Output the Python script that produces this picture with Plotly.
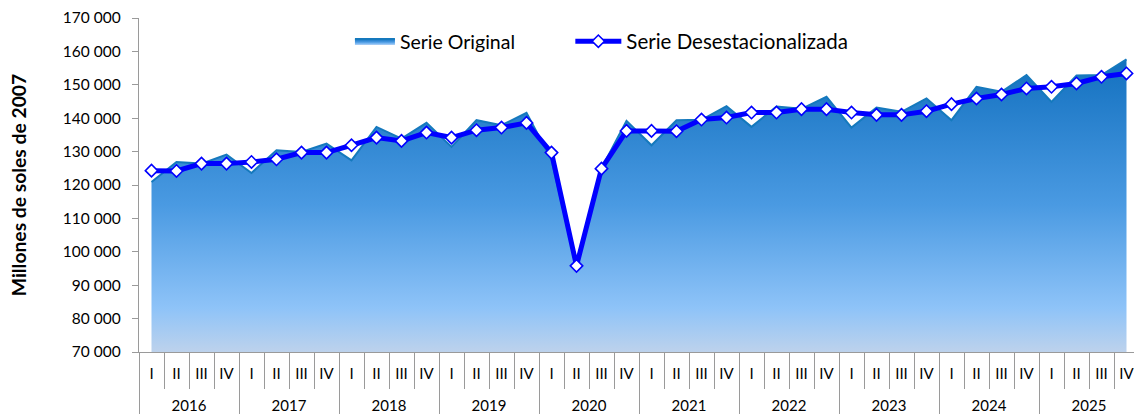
import plotly.graph_objects as go

years = ["2016", "2017", "2018", "2019", "2020", "2021", "2022", "2023", "2024", "2025"]
quarters = ["I", "II", "III", "IV"]

serie_original = [120900, 126900, 126400, 129100, 123600, 130400, 129900, 132400,
                  127400, 137400, 133900, 138600, 131400, 139400, 137900, 141600,
                  127500, 95500, 125000, 139200, 131900, 139400, 139500, 143600,
                  137400, 143500, 142800, 146400, 137200, 143200, 141900, 145900,
                  139400, 149400, 147900, 152900, 144900, 152800, 152900, 157600]

serie_desest = [124300, 124200, 126400, 126400, 126900, 127700, 129700, 129700,
                131900, 134200, 133200, 135700, 134200, 136400, 137200, 138600,
                129700, 95800, 124900, 136200, 136200, 136100, 139600, 140200,
                141700, 141700, 142700, 142700, 141700, 141000, 141000, 142100,
                144200, 145900, 147100, 148900, 149400, 150400, 152400, 153400]

# outer labels get a leading line break so the year row sits lower, as in the reference
x_years = ["<br>" + y for y in years for _ in quarters]
x_quarters = [q for _ in years for q in quarters]
x = [x_years, x_quarters]

FONT = "Lato"

fig = go.Figure()
fig.add_trace(go.Scatter(
    x=x, y=serie_original, name="Serie Original", mode="lines",
    line=dict(color="#1579bd", width=2),
    fill="tozeroy",
    fillgradient=dict(type="vertical", start=70000, stop=158000,
                      colorscale=[[0, "#bdd2ec"], [0.15, "#8ec3f8"],
                                  [0.5, "#4a9ae2"], [1, "#1270bf"]]),
    legend="legend",
))
fig.add_trace(go.Scatter(
    x=x, y=serie_desest, name="Serie Desestacionalizada", mode="lines+markers",
    line=dict(color="#0000ff", width=5),
    marker=dict(symbol="diamond", size=9.5, color="white",
                line=dict(color="#0000ff", width=1.6)),
    legend="legend2",
))

leg_common = dict(orientation="h", y=0.93, xanchor="left", yanchor="middle",
                  bgcolor="rgba(0,0,0,0)")

fig.update_layout(
    width=1134, height=419,
    margin=dict(l=139, r=0, t=18, b=67),
    paper_bgcolor="white", plot_bgcolor="white",
    separators=". ",
    font=dict(family=FONT, size=16, color="#000000"),
    showlegend=True,
    legend=dict(x=0.212, itemwidth=40, font=dict(size=19.5, family=FONT), **leg_common),
    legend2=dict(x=0.4335, itemwidth=46, font=dict(size=20.5, family=FONT), **leg_common),
)
fig.update_yaxes(
    range=[70000, 170000], dtick=10000, tickformat=",d",
    showgrid=False, zeroline=False, automargin=False,
    showline=True, linecolor="#9a9a9a", linewidth=1.3,
    ticks="outside", ticklen=6, tickcolor="#9a9a9a",
    ticklabelstandoff=8,
    tickfont=dict(size=15.5, family=FONT),
    title=dict(text="<b>Millones de soles de 2007</b>", font=dict(size=19.3, family=FONT),
               standoff=31),
)
fig.update_xaxes(
    type="multicategory", range=[-0.5, 39.3],
    showgrid=False, zeroline=False, automargin=False,
    showline=True, linecolor="#9a9a9a", linewidth=1.3,
    ticks="outside", tickson="boundaries", ticklen=36, tickcolor="#9a9a9a",
    ticklabelstandoff=8,
    showdividers=True, dividercolor="#9a9a9a", dividerwidth=1.3,
    tickfont=dict(size=15, family=FONT),
)

fig.write_html("out.html", config={"displayModeBar": False},
               post_script="document.body.style.margin='0';document.body.style.padding='0';")
